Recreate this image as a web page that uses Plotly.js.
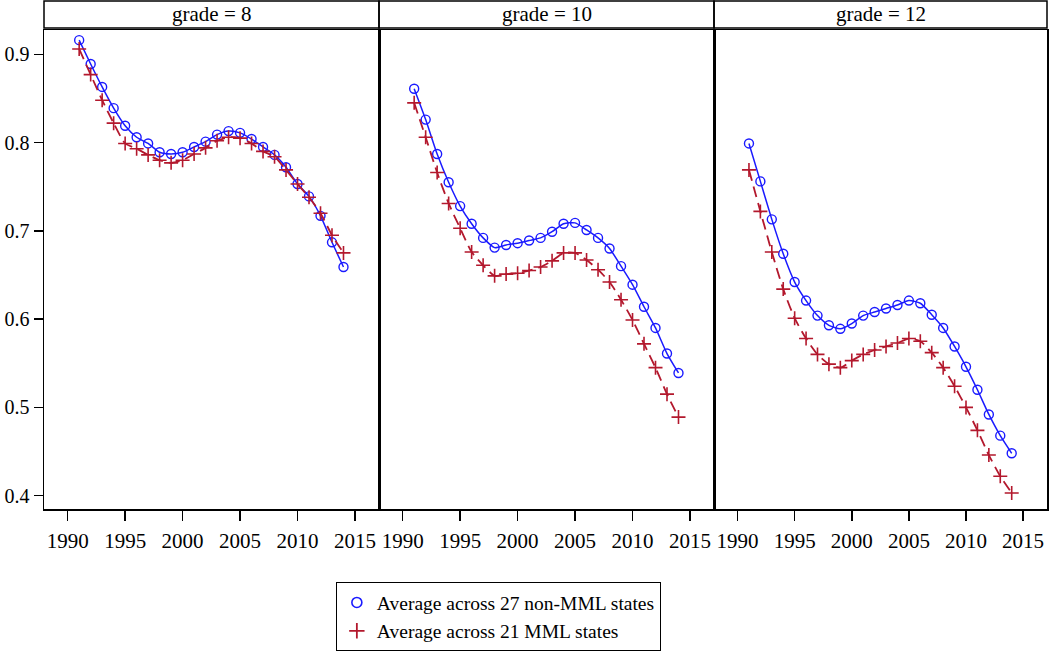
<!DOCTYPE html>
<html>
<head>
<meta charset="utf-8">
<script src="https://cdn.plot.ly/plotly-3.0.1.min.js"></script>
<style>html,body{margin:0;padding:0;background:#fff;}#chart{width:1050px;height:652px;}</style>
</head>
<body>
<div id="chart"></div>
<script>
const years = [1991,1992,1993,1994,1995,1996,1997,1998,1999,2000,2001,2002,2003,2004,2005,2006,2007,2008,2009,2010,2011,2012,2013,2014];
const panelTitles = ["grade = 8", "grade = 10", "grade = 12"];
const seriesNames = ["Average across 27 non-MML states", "Average across 21 MML states"];
const xTickVals = [1990,1995,2000,2005,2010,2015];
const yTickVals = [0.4,0.5,0.6,0.7,0.8,0.9];

const nonMML_g8  = [0.916,0.889,0.863,0.839,0.819,0.806,0.799,0.789,0.787,0.789,0.795,0.801,0.809,0.813,0.811,0.804,0.795,0.786,0.772,0.753,0.739,0.717,0.687,0.659];
const mml_g8     = [0.906,0.877,0.848,0.822,0.799,0.793,0.786,0.780,0.777,0.780,0.787,0.794,0.802,0.806,0.805,0.799,0.790,0.784,0.769,0.753,0.738,0.720,0.695,0.675];
const nonMML_g10 = [0.861,0.826,0.787,0.755,0.728,0.708,0.692,0.681,0.684,0.686,0.689,0.692,0.699,0.708,0.709,0.701,0.692,0.680,0.660,0.639,0.614,0.590,0.561,0.539];
const mml_g10    = [0.845,0.806,0.766,0.731,0.703,0.676,0.661,0.649,0.651,0.652,0.655,0.659,0.666,0.675,0.675,0.667,0.656,0.642,0.622,0.599,0.572,0.545,0.515,0.489];
const nonMML_g12 = [0.799,0.756,0.713,0.674,0.642,0.621,0.604,0.593,0.589,0.595,0.604,0.608,0.612,0.616,0.621,0.618,0.605,0.590,0.569,0.546,0.520,0.492,0.468,0.448];
const mml_g12    = [0.769,0.722,0.676,0.634,0.601,0.578,0.560,0.549,0.545,0.553,0.560,0.565,0.569,0.573,0.578,0.575,0.562,0.545,0.524,0.500,0.474,0.446,0.422,0.403];

const blue = '#1a1aff';
const red = '#b3182d';
const nonMML = [nonMML_g8, nonMML_g10, nonMML_g12];
const mml = [mml_g8, mml_g10, mml_g12];
const axisIds = [['x','y'],['x2','y2'],['x3','y3']];

const traces = [];
for (let i = 0; i < 3; i++) {
  const [xa, ya] = axisIds[i];
  traces.push({x: years, y: nonMML[i], xaxis: xa, yaxis: ya, type: 'scatter', mode: 'lines+markers',
    name: seriesNames[0], showlegend: false, line: {color: blue, width: 1.5, shape: 'spline', smoothing: 0.6},
    marker: {symbol: 'circle-open', size: 9, color: blue, line: {width: 1.4, color: blue}}});
  traces.push({x: years, y: mml[i], xaxis: xa, yaxis: ya, type: 'scatter', mode: 'lines+markers',
    name: seriesNames[1], showlegend: false, line: {color: red, width: 1.8, dash: '11px,6px', shape: 'spline', smoothing: 0.6},
    marker: {symbol: 'cross-thin-open', size: 10, color: red, line: {width: 1.6, color: red}}});
}
// legend-only traces (markers only, as in the reference legend)
traces.push({x: [null], y: [null], type: 'scatter', mode: 'markers', name: seriesNames[0], showlegend: true,
  marker: {symbol: 'circle-open', size: 10, color: blue, line: {width: 1.6, color: blue}}});
traces.push({x: [null], y: [null], type: 'scatter', mode: 'markers', name: seriesNames[1], showlegend: true,
  marker: {symbol: 'cross-thin-open', size: 11, color: red, line: {width: 1.8, color: red}}});

const fam = 'Liberation Serif, Times New Roman, serif';
const xFont = {family: fam, size: 21, color: '#000'};
const yFont = {family: fam, size: 20, color: '#000'};
const domains = [[0, 0.334], [0.334, 0.668], [0.668, 1]];
const xRange = [1987.94, 2017.09];
const yRange = [0.3849, 0.9275];

function xAxis(i) {
  return {domain: domains[i], range: xRange, anchor: axisIds[i][1], tickvals: xTickVals, ticks: 'outside', ticklen: 10,
    tickwidth: 1.5, tickcolor: '#000', showline: true, mirror: true, linecolor: '#000', linewidth: 1.5,
    showgrid: false, zeroline: false, tickfont: xFont, ticklabelstandoff: 2};
}
function yAxis(i) {
  return {domain: [0, 1], range: yRange, anchor: axisIds[i][0], tickvals: yTickVals, ticks: i === 0 ? 'outside' : '',
    ticklen: 9, tickwidth: 1.5, tickcolor: '#000', showticklabels: i === 0, tickformat: '.1f',
    showline: true, mirror: true, linecolor: '#000', linewidth: 1.5, showgrid: false, zeroline: false,
    tickfont: yFont, ticklabelstandoff: 0};
}

const shapes = [];
const annotations = [];
for (let i = 0; i < 3; i++) {
  shapes.push({type: 'rect', xref: 'paper', yref: 'paper', x0: domains[i][0], x1: domains[i][1],
    y0: 1.004, y1: 1.0605, line: {color: '#000', width: 1.5}, fillcolor: 'rgba(0,0,0,0)'});
  annotations.push({xref: 'paper', yref: 'paper', x: (domains[i][0] + domains[i][1]) / 2, y: 1.033,
    text: panelTitles[i], showarrow: false, xanchor: 'center', yanchor: 'middle',
    font: {family: fam, size: 21, color: '#000'}});
}

const layout = {
  width: 1050, height: 652,
  margin: {l: 44, r: 3, t: 30, b: 143, autoexpand: false},
  paper_bgcolor: '#fff', plot_bgcolor: '#fff',
  font: xFont,
  showlegend: true,
  legend: {x: 0.453, xanchor: 'center', y: -0.153, yanchor: 'top', bordercolor: '#000', borderwidth: 1,
    bgcolor: '#fff', font: {family: fam, size: 19.5, color: '#000'}, tracegroupgap: 0, itemwidth: 30},
  xaxis: xAxis(0), xaxis2: xAxis(1), xaxis3: xAxis(2),
  yaxis: yAxis(0), yaxis2: yAxis(1), yaxis3: yAxis(2),
  shapes: shapes, annotations: annotations
};

Plotly.newPlot('chart', traces, layout, {staticPlot: true, displayModeBar: false});
</script>
</body>
</html>
